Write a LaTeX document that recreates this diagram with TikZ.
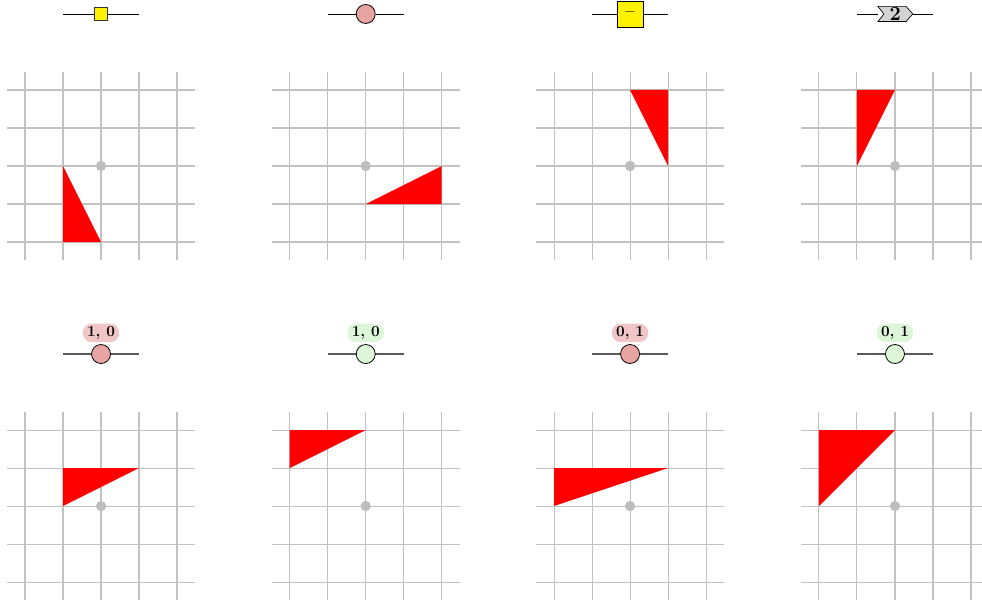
\documentclass[tikz,border=0pt]{standalone}
\usetikzlibrary{calc}
\definecolor{gridc}{HTML}{C2C2C2}
\definecolor{dotc}{HTML}{BDBDBD}
\definecolor{yel}{HTML}{FFF200}
\definecolor{pinkc}{HTML}{E8A3A3}
\definecolor{greenc}{HTML}{DDF6D8}
\definecolor{pillr}{HTML}{F0C6C6}
\definecolor{pillg}{HTML}{DDF5D8}
\definecolor{chev}{HTML}{D3D3D3}
\tikzset{
  gridline/.style={gridc, line width=0.8pt},
  tri/.style={fill=red, draw=none},
  cdot/.style={circle, fill=dotc, draw=none, minimum size=0.27cm, inner sep=0pt},
  wire/.style={black, line width=0.6pt},
  wiregray/.style={black!65, line width=0.8pt},
  smallsq/.style={draw=black!80, fill=yel, minimum size=0.34cm, inner sep=0pt, line width=0.6pt},
  bigsq/.style={draw=black, fill=yel, minimum size=0.68cm, inner sep=0pt, line width=0.6pt},
  pinkdot/.style={circle, draw=black, fill=pinkc, minimum size=0.5cm, inner sep=0pt, line width=0.6pt},
  greendot/.style={circle, draw=black, fill=greenc, minimum size=0.5cm, inner sep=0pt, line width=0.6pt},
  pill/.style={rounded corners=0.24cm, minimum height=0.49cm, minimum width=0.96cm, inner sep=1.5pt, font=\fontsize{11.5}{13}\selectfont\bfseries},
}
\newcommand{\panelgrid}[2]{%
  \begin{scope}[shift={(#1,#2)}]
    \foreach \i in {-2,...,2} {
      \draw[gridline] (\i,-2.47) -- (\i,2.47);
      \draw[gridline] (-2.47,\i) -- (2.47,\i);
    }
  \end{scope}}
\begin{document}
\begin{tikzpicture}
\useasboundingbox (-2.658,-11.42) rectangle (23.18,4.368);
% grids
\panelgrid{0}{0}
\panelgrid{6.965}{0}
\panelgrid{13.92}{0}
\panelgrid{20.89}{0}
\panelgrid{0}{-8.947}
\panelgrid{6.965}{-8.947}
\panelgrid{13.92}{-8.947}
\panelgrid{20.89}{-8.947}
% triangles row 1
\fill[tri] (-1,0) -- (-1,-2) -- (0,-2) -- cycle;
\begin{scope}[shift={(6.965,0)}]
\fill[tri] (0,-1) -- (2,0) -- (2,-1) -- cycle;
\end{scope}
\begin{scope}[shift={(13.92,0)}]
\fill[tri] (0,2) -- (1,2) -- (1,0) -- cycle;
\end{scope}
\begin{scope}[shift={(20.89,0)}]
\fill[tri] (-1,2) -- (0,2) -- (-1,0) -- cycle;
\end{scope}
% triangles row 2
\begin{scope}[shift={(0,-8.947)}]
\fill[tri] (-1,1) -- (1,1) -- (-1,0) -- cycle;
\end{scope}
\begin{scope}[shift={(6.965,-8.947)}]
\fill[tri] (-2,2) -- (0,2) -- (-2,1) -- cycle;
\end{scope}
\begin{scope}[shift={(13.92,-8.947)}]
\fill[tri] (-2,1) -- (1,1) -- (-2,0) -- cycle;
\end{scope}
\begin{scope}[shift={(20.89,-8.947)}]
\fill[tri] (-2,2) -- (0,2) -- (-2,0) -- cycle;
\end{scope}
% center dots
\node[cdot] (c1) at (0,0) {};
\node[cdot] (c2) at (6.965,0) {};
\node[cdot] (c3) at (13.92,0) {};
\node[cdot] (c4) at (20.89,0) {};
\node[cdot] (c5) at (0,-8.947) {};
\node[cdot] (c6) at (6.965,-8.947) {};
\node[cdot] (c7) at (13.92,-8.947) {};
\node[cdot] (c8) at (20.89,-8.947) {};
% row 1 symbols
\coordinate (w1a) at (-1,4); \coordinate (w1b) at (1,4);
\node[smallsq] (s1) at (0,4) {};
\draw[wire] (w1a) -- (s1.west); \draw[wire] (s1.east) -- (w1b);
\coordinate (w2a) at (5.965,4); \coordinate (w2b) at (7.965,4);
\node[pinkdot] (s2) at (6.965,4) {};
\draw[wire] (w2a) -- (s2.west); \draw[wire] (s2.east) -- (w2b);
\coordinate (w3a) at (12.92,4); \coordinate (w3b) at (14.92,4);
\node[bigsq] (s3) at (13.92,4) {\large\bfseries --};
\draw[wire] (w3a) -- (s3.west); \draw[wire] (s3.east) -- (w3b);
\coordinate (w4a) at (19.89,4); \coordinate (w4b) at (21.89,4);
\coordinate (k1) at (20.44,4); \coordinate (k2) at (21.36,4);
\draw[black, fill=chev, line width=0.5pt] (20.44,4.2) -- (21.18,4.2) -- (21.36,4) -- (21.18,3.8) -- (20.44,3.8) -- (20.6,4) -- cycle;
\node[inner sep=0pt, font=\fontsize{15}{16}\selectfont\bfseries] (s4) at (20.90,4) {2};
\draw[wire] (w4a) -- (k1); \draw[wire] (k2) -- (w4b);
% row 2 symbols
\coordinate (v1a) at (-1,-4.947); \coordinate (v1b) at (1,-4.947);
\draw[wiregray] (v1a) -- (v1b);
\node[pill, fill=pillr] (l1) at (0,-4.39) {1, 0};
\node[pinkdot] (t1) at (0,-4.947) {};
\coordinate (v2a) at (5.965,-4.947); \coordinate (v2b) at (7.965,-4.947);
\draw[wiregray] (v2a) -- (v2b);
\node[pill, fill=pillg] (l2) at (6.965,-4.39) {1, 0};
\node[greendot] (t2) at (6.965,-4.947) {};
\coordinate (v3a) at (12.92,-4.947); \coordinate (v3b) at (14.92,-4.947);
\draw[wiregray] (v3a) -- (v3b);
\node[pill, fill=pillr] (l3) at (13.92,-4.39) {0, 1};
\node[pinkdot] (t3) at (13.92,-4.947) {};
\coordinate (v4a) at (19.89,-4.947); \coordinate (v4b) at (21.89,-4.947);
\draw[wiregray] (v4a) -- (v4b);
\node[pill, fill=pillg] (l4) at (20.89,-4.39) {0, 1};
\node[greendot] (t4) at (20.89,-4.947) {};
\end{tikzpicture}
\end{document}
